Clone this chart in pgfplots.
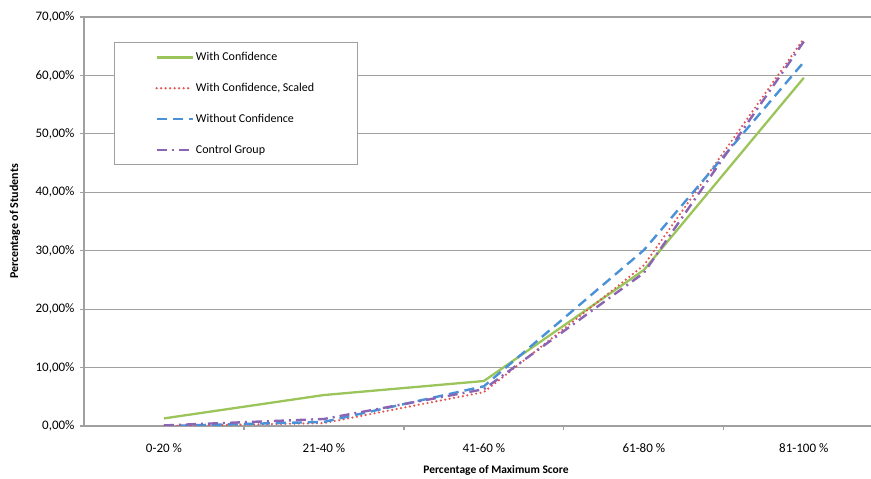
\documentclass[border=0pt]{standalone}
\usepackage{fontspec}
\setmainfont{Carlito}
\usepackage{pgfplots}
\pgfplotsset{compat=1.18}
\definecolor{cgreen}{RGB}{155,197,90}
\definecolor{cred}{RGB}{226,84,80}
\definecolor{cblue}{RGB}{74,146,215}
\definecolor{cpurple}{RGB}{140,100,180}
\definecolor{gridgray}{RGB}{160,160,160}
\begin{document}
\begin{tikzpicture}[x=1pt,y=1pt]
\useasboundingbox (0,0) rectangle (871,479);
\begin{axis}[
  at={(84pt,53pt)}, anchor=south west,
  scale only axis, width=787pt, height=409pt,
  xmin=-0.5, xmax=4.42, ymin=0, ymax=70,
  axis x line*=bottom, axis y line*=left,
  axis line style={draw=gridgray, line width=1.2pt},
  ymajorgrids, grid style={draw=gridgray, line width=1.2pt},
  tick align=outside, major tick length=4pt,
  tick style={draw=gridgray, line width=1.2pt},
  ytick={0,10,...,70},
  yticklabels={{0,00\%},{10,00\%},{20,00\%},{30,00\%},{40,00\%},{50,00\%},{60,00\%},{70,00\%}},
  yticklabel style={font=\fontsize{13}{15}\selectfont, xshift=-2pt},
  xtick={0.5,1.5,2.5,3.5}, xticklabels={},
  extra x ticks={0,1,2,3,4},
  extra x tick labels={0-20 \%,21-40 \%,41-60 \%,61-80 \%,81-100 \%},
  extra x tick style={major tick length=0pt, xticklabel style={font=\fontsize{13}{15}\selectfont, yshift=-14pt}},
  every axis y label/.style={at={(axis description cs:-0.0877,0.5)}, rotate=90, anchor=center, font=\bfseries\fontsize{12}{14}\selectfont},
  every axis x label/.style={at={(axis description cs:0.5235,-0.1076)}, anchor=center, font=\bfseries\fontsize{11.5}{13}\selectfont},
  ylabel={Percentage of Students},
  xlabel={Percentage of Maximum Score},
  legend cell align=left,
  legend image code/.code={\draw[#1] (0pt,0pt) -- (36pt,0pt);},
  legend style={at={(axis description cs:0.0381,0.9389)}, anchor=north west,
    draw=gridgray, line width=1pt, inner xsep=41pt, inner ysep=8pt,
    row sep=17pt, font=\fontsize{12}{14}\selectfont},
]
\addplot[cgreen, line width=2.3pt] coordinates {(0,1.3) (1,5.3) (2,7.7) (3,26.7) (4,59.6)};
\addlegendentry{With Confidence}
\addplot[cred, line width=2.4pt, line cap=round, dash pattern=on 0pt off 4.5pt] coordinates {(0,0) (1,0.5) (2,5.8) (3,27.5) (4,66.3)};
\addlegendentry{With Confidence, Scaled}
\addplot[cblue, line width=2.4pt, dash pattern=on 10pt off 6pt] coordinates {(0,0) (1,0.7) (2,6.8) (3,30.1) (4,62.3)};
\addlegendentry{Without Confidence}
\addplot[cpurple, line width=2.4pt, dash pattern=on 10pt off 5pt on 2pt off 5pt] coordinates {(0,0.1) (1,1.2) (2,6.3) (3,26.2) (4,65.8)};
\addlegendentry{Control Group}
\end{axis}
\end{tikzpicture}
\end{document}
